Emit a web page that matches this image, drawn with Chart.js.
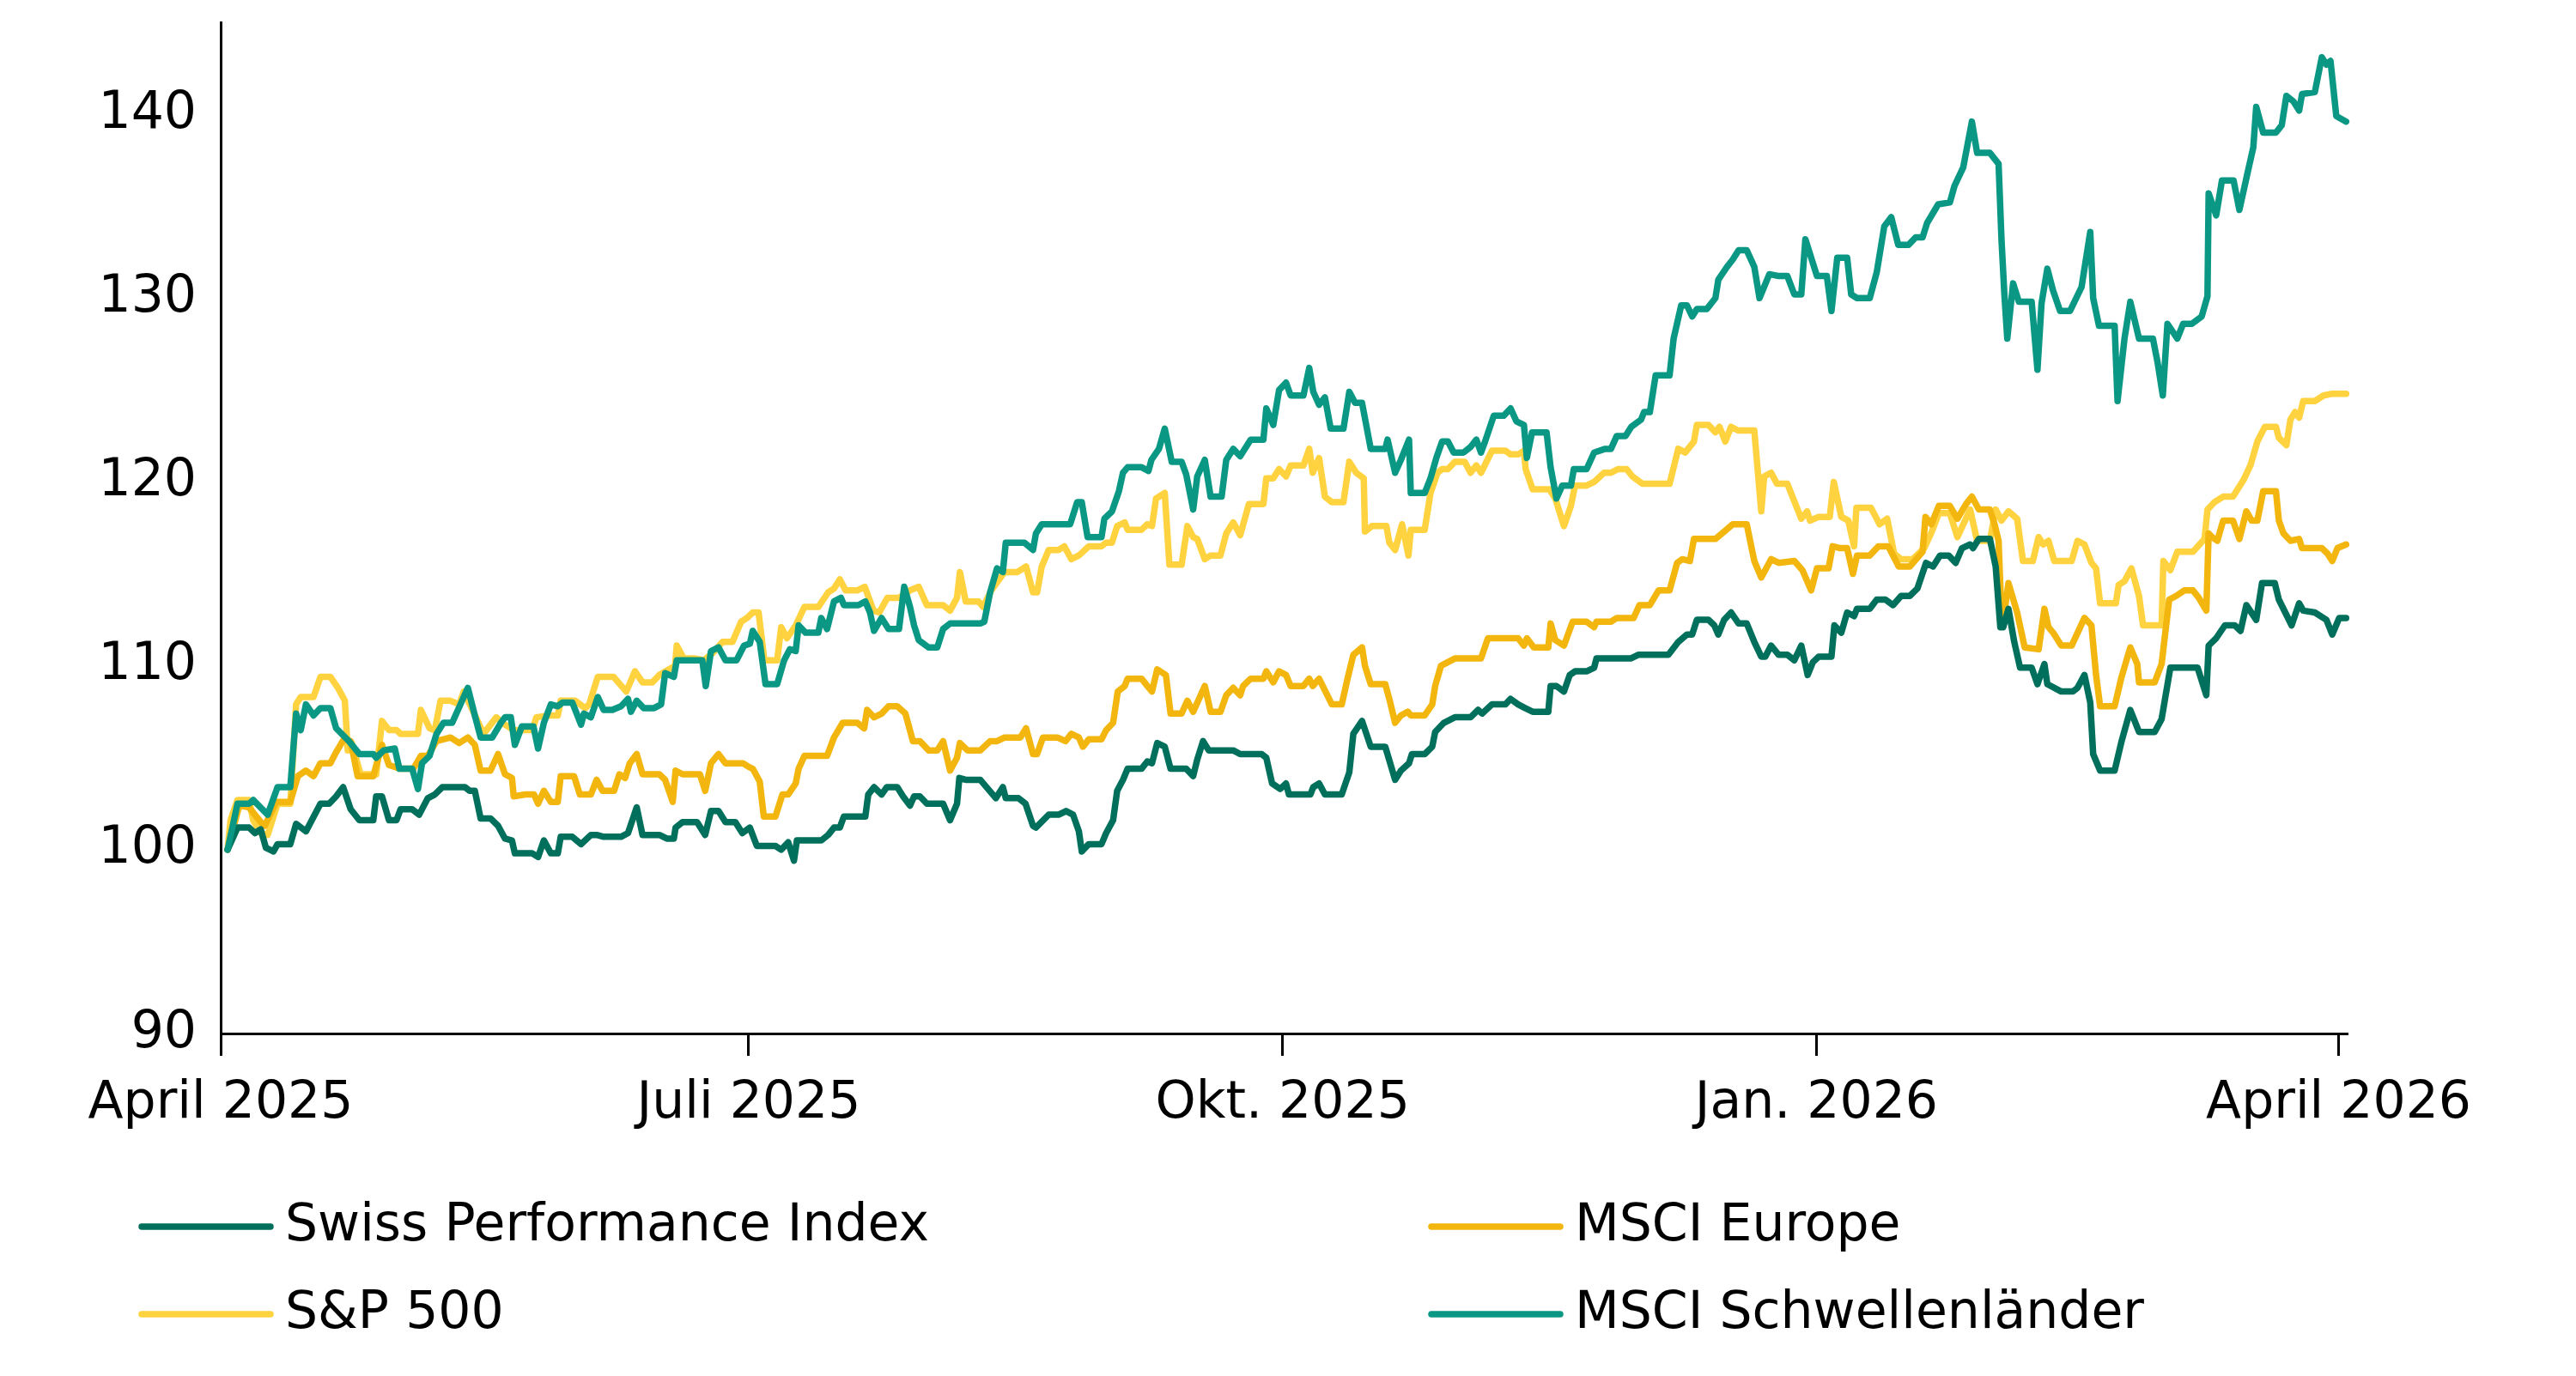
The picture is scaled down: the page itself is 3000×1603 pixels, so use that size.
<!DOCTYPE html>
<html lang="de">
<head>
<meta charset="utf-8">
<title>Indexentwicklung</title>
<script src="https://cdn.jsdelivr.net/npm/chart.js@4.4.1/dist/chart.umd.min.js"></script>
<style>
  html, body { margin: 0; padding: 0; background: #fff; }
  #wrap { position: relative; width: 3000px; height: 1603px; }
</style>
</head>
<body>
<div id="wrap"><canvas id="myChart"></canvas></div>
<script>
// Tage seit 1. April 2025
const tickDays = [0, 91, 183, 275, 365];
const tickLabels = ["April 2025", "Juli 2025", "Okt. 2025", "Jan. 2026", "April 2026"];
const yTicks = [90, 100, 110, 120, 130, 140];

const seriesNames = ["Swiss Performance Index", "S&P 500", "MSCI Europe", "MSCI Schwellenländer"];

const spiDays = [1.2,2.9,4.9,5.9,6.9,7.8,9.1,9.8,12.0,13.0,14.7,17.2,18.7,19.9,21.1,22.4,23.9,26.3,26.8,27.8,29.0,30.3,31.0,33.0,34.2,35.7,36.9,38.2,42.1,42.9,43.8,44.8,46.5,47.8,49.0,50.2,50.7,53.7,54.7,55.7,56.9,58.1,58.6,60.6,
  62.1,63.8,64.8,66.0,69.0,70.2,71.7,72.7,75.6,76.9,78.1,78.4,79.6,82.1,83.5,84.5,85.8,87.0,88.7,89.9,91.2,92.4,95.6,96.6,97.8,98.8,99.3,103.5,104.7,105.7,106.7,107.4,111.1,111.6,112.6,113.9,114.8,116.6,117.6,118.8,119.5,120.5,
  121.7,124.5,125.7,126.9,127.3,128.4,130.9,133.6,134.8,135.3,137.5,138.7,140.0,140.5,142.7,144.4,145.7,146.9,147.9,148.4,149.6,151.8,152.6,153.8,154.5,155.5,156.3,158.7,159.7,160.5,161.4,162.7,163.7,166.4,167.6,168.3,169.3,170.3,174.5,175.7,179.4,180.2,181.2,182.6,
  183.6,184.1,187.8,188.3,189.3,190.3,193.2,194.5,195.2,196.7,198.2,200.7,202.4,203.4,204.8,205.3,207.5,208.8,209.3,210.8,212.7,215.4,216.7,217.4,219.1,221.4,222.3,223.6,224.8,226.1,228.8,229.2,230.2,231.5,232.5,233.4,235.4,236.7,237.1,243.0,
  244.3,249.5,251.2,252.7,253.6,254.4,256.4,257.4,258.1,259.1,260.3,261.6,263.0,264.3,265.5,266.2,267.2,268.5,270.0,271.2,272.4,273.5,274.4,275.4,277.6,278.1,279.3,280.3,281.5,282.0,284.2,285.4,286.9,288.2,289.6,291.1,292.4,293.9,295.1,296.3,297.8,299.0,300.1,301.5,302.0,303.0,304.9,
  305.9,306.7,307.2,308.1,309.1,310.1,312.1,313.1,314.3,314.8,317.2,319.2,320.0,321.2,322.2,322.7,323.9,326.4,327.6,329.1,330.6,333.3,334.5,336.0,340.7,342.2,342.6,343.9,345.4,347.1,348.1,349.1,350.8,351.8,354.0,354.7,356.9,358.2,358.9,360.9,362.9,363.9,365.1,366.3];
const spiVals = [100.0,101.2,101.2,100.9,101.1,100.1,99.9,100.3,100.3,101.4,101.0,102.5,102.5,102.9,103.4,102.2,101.6,101.6,102.9,102.9,101.6,101.6,102.2,102.2,101.9,102.8,103.0,103.4,103.4,103.2,103.2,101.7,101.7,101.3,100.6,100.5,99.8,99.8,99.6,100.5,99.8,99.8,100.7,100.7,
  100.3,100.8,100.8,100.7,100.7,100.9,102.3,100.8,100.8,100.6,100.6,101.2,101.5,101.5,100.8,102.1,102.1,101.5,101.5,100.9,101.2,100.2,100.2,100.0,100.4,99.4,100.5,100.5,100.8,101.2,101.2,101.8,101.8,103.0,103.4,103.0,103.4,103.4,102.9,102.4,102.9,102.9,
  102.5,102.5,101.6,102.5,103.9,103.8,103.8,102.8,103.4,102.8,102.8,102.5,101.3,101.2,101.9,101.9,102.1,101.9,101.0,99.9,100.3,100.3,100.9,101.6,103.2,103.8,104.4,104.4,104.8,104.7,105.8,105.6,104.4,104.4,104.0,104.9,105.9,105.4,105.4,105.2,105.2,105.0,103.6,103.3,
  103.6,103.0,103.0,103.4,103.6,103.0,103.0,104.2,106.3,107.0,105.6,105.6,103.8,104.3,104.7,105.2,105.2,105.6,106.4,106.9,107.2,107.2,107.6,107.4,107.9,107.9,108.2,107.9,107.7,107.5,107.5,108.9,108.9,108.6,109.5,109.7,109.7,109.9,110.4,110.4,
  110.6,110.6,111.3,111.7,111.7,112.5,112.5,112.2,111.7,112.5,112.9,112.3,112.3,111.3,110.5,110.5,111.1,110.6,110.6,110.3,111.1,109.5,110.2,110.5,110.5,112.2,111.8,112.9,112.7,113.1,113.1,113.6,113.6,113.3,113.8,113.8,114.2,115.6,115.4,116.0,116.0,115.6,116.4,116.6,116.4,116.9,116.9,
  115.4,112.1,112.1,113.1,111.3,109.9,109.9,109.0,110.1,109.0,108.6,108.6,108.8,109.5,108.0,105.2,104.3,104.3,105.9,107.6,106.4,106.4,107.1,109.9,109.9,108.4,111.1,111.5,112.2,112.2,111.9,113.3,112.5,114.5,114.5,113.6,112.2,113.4,113.0,112.9,112.5,111.7,112.6,112.6];

const spDays = [1.2,1.7,2.9,4.9,5.6,6.9,8.1,9.8,12.0,13.0,13.8,16.0,17.2,18.9,20.2,21.4,21.9,22.6,24.1,26.8,27.8,29.0,30.3,31.0,34.0,34.5,36.0,36.9,37.9,39.6,41.1,41.9,43.4,45.3,47.5,49.0,50.5,53.7,54.4,56.7,58.1,58.6,
  61.1,62.8,63.5,65.0,67.7,69.9,71.4,72.7,74.4,75.6,78.3,78.6,79.8,81.8,83.3,84.8,86.5,88.2,89.7,90.7,91.7,92.7,93.7,95.9,96.6,97.6,99.1,100.6,103.0,104.7,105.7,106.7,107.7,109.7,111.0,112.5,113.5,114.9,116.9,118.8,120.3,
  121.7,124.5,125.7,126.9,127.4,128.4,130.6,131.4,132.8,135.1,137.3,138.8,140.0,140.7,141.5,142.7,144.4,145.4,146.6,147.9,149.6,151.8,152.6,153.6,154.5,155.8,156.3,158.7,159.7,160.5,161.2,162.7,163.5,165.6,166.6,167.6,168.3,169.6,170.6,172.3,173.3,174.5,175.7,177.2,179.7,180.2,181.4,182.4,
  183.6,184.4,186.6,187.6,188.2,189.3,190.3,191.5,193.5,194.5,195.7,197.0,197.2,198.4,200.9,201.4,202.4,203.6,204.7,205.1,207.5,208.5,209.7,210.5,211.5,212.7,214.4,215.4,216.4,217.2,219.1,221.4,222.3,223.6,224.6,224.9,226.1,229.0,230.0,231.5,232.7,233.4,235.4,236.7,238.4,239.6,240.8,242.3,243.3,
  245.0,249.7,251.2,252.4,253.9,254.4,256.4,257.6,258.3,259.3,260.3,261.5,264.3,265.5,266.0,267.2,268.2,270.0,272.4,273.4,273.9,275.4,277.3,278.0,279.3,280.5,281.5,281.9,284.4,285.9,287.2,288.4,289.6,291.6,293.6,294.9,296.1,298.0,299.3,301.5,302.7,304.9,
  305.9,306.9,308.1,309.6,310.6,312.3,313.3,314.1,315.0,316.0,319.0,320.0,321.2,322.4,323.2,323.9,326.6,327.1,328.1,329.3,330.6,331.3,334.5,334.8,336.0,337.2,339.9,341.9,342.4,343.6,345.1,346.8,348.6,349.8,351.0,352.3,354.2,354.7,356.0,356.7,357.5,358.2,358.9,360.9,362.4,363.9,366.3];
const spVals = [100.0,101.6,102.7,102.7,101.6,100.9,100.8,102.5,102.5,107.9,108.3,108.3,109.4,109.4,108.8,108.1,105.4,105.8,104.1,104.1,107.0,106.5,106.5,106.3,106.3,107.6,106.6,106.5,108.1,108.1,107.9,108.6,107.6,106.3,107.2,106.8,106.5,106.5,107.2,107.3,107.3,108.1,
  108.1,107.7,107.9,109.4,109.4,108.6,109.7,109.1,109.1,109.5,110.0,111.1,110.4,110.4,110.3,110.7,111.3,111.3,112.4,112.6,112.9,112.9,110.3,110.3,112.1,111.5,112.2,113.2,113.2,114.0,114.2,114.7,114.1,114.1,114.3,113.0,112.9,113.7,113.7,114.1,114.3,
  113.3,113.3,113.0,113.7,115.1,113.5,113.5,113.2,114.1,115.1,115.1,115.4,114.0,114.0,115.4,116.3,116.3,116.5,115.8,116.0,116.5,116.5,116.7,116.7,117.6,117.8,117.4,117.4,117.7,117.6,119.1,119.4,115.5,115.5,117.6,117.0,116.9,115.8,116.0,116.0,117.2,117.8,117.1,118.8,118.8,120.2,120.2,120.7,
  120.3,120.9,120.9,121.8,120.5,121.3,119.2,118.9,118.9,121.1,120.5,120.2,117.3,117.6,117.6,116.7,116.3,117.7,116.0,117.4,117.4,119.4,120.5,120.7,120.7,121.1,121.1,120.5,120.9,120.5,121.7,121.7,121.5,121.5,121.7,120.7,119.6,119.6,119.1,117.6,118.7,119.8,119.8,120.0,120.5,120.5,120.7,120.7,120.3,
  119.9,119.9,121.8,121.6,122.2,123.1,123.1,122.7,123.0,122.2,123.0,122.8,122.8,118.4,120.3,120.5,119.9,119.9,118.0,118.4,117.9,118.1,118.1,120.0,118.1,117.9,116.5,118.6,118.6,117.7,118.0,116.1,115.8,115.8,116.4,117.3,118.3,118.3,117.0,118.5,116.8,116.8,
  118.5,117.9,118.4,118.0,115.7,115.7,117.0,116.6,116.8,115.7,115.7,116.8,116.6,115.6,115.3,113.4,113.4,114.4,114.6,115.3,113.8,112.2,112.2,115.7,115.2,116.2,116.2,116.9,118.5,118.9,119.2,119.2,120.1,120.9,122.2,123.0,123.0,122.4,122.0,123.4,123.8,123.5,124.4,124.4,124.7,124.8,124.8];

const euDays = [1.2,3.2,4.9,5.9,6.9,7.6,9.6,12.0,13.3,14.7,16.0,17.2,18.9,19.9,21.2,22.4,23.6,26.3,27.8,29.0,31.0,33.2,34.5,35.7,37.2,39.6,41.1,42.6,43.8,44.8,46.5,47.8,49.0,50.2,50.5,52.5,54.0,54.7,55.7,56.9,58.1,58.6,
  60.9,61.9,63.8,64.8,65.8,67.8,68.7,69.7,70.5,71.7,72.7,75.6,76.6,77.9,78.4,79.6,82.6,83.5,84.5,85.8,87.0,90.0,91.0,91.7,92.9,93.6,95.6,96.8,97.8,99.1,99.6,100.6,104.5,105.7,107.2,109.7,110.9,111.4,112.6,113.9,115.1,116.6,118.0,119.3,120.5,
  122.0,123.5,124.5,125.7,126.9,127.4,128.7,130.9,132.6,133.8,135.1,137.8,138.8,140.0,140.7,141.7,144.2,145.6,146.6,147.9,148.6,149.6,151.8,152.6,153.8,154.6,155.8,156.3,158.7,159.7,160.5,161.4,162.9,163.7,165.6,166.6,167.6,169.6,170.6,172.3,173.3,174.5,175.7,176.2,177.5,179.7,180.2,181.4,182.4,
  183.6,184.4,186.6,187.6,188.2,189.3,191.5,193.2,194.2,195.2,196.7,197.2,198.2,200.7,201.4,202.4,203.4,204.6,205.1,207.5,208.8,209.3,210.3,212.7,217.2,218.4,223.6,224.6,225.1,226.3,228.8,229.2,230.0,231.5,233.0,235.4,236.7,237.1,239.6,240.6,243.5,244.5,
  246.3,247.8,249.7,251.0,251.9,253.2,253.9,257.6,259.1,260.6,263.0,264.3,265.5,267.2,268.5,271.2,272.6,274.1,275.1,277.1,277.8,279.1,280.3,281.3,282.0,284.2,285.7,287.4,289.2,291.1,293.3,293.8,294.8,296.1,298.0,299.3,300.8,301.8,303.0,304.9,
  305.7,306.4,306.9,307.4,308.1,309.6,310.9,313.3,314.3,315.0,315.8,317.2,319.0,321.2,322.4,323.2,323.9,326.4,327.6,329.1,330.3,330.6,333.3,334.5,335.8,337.0,338.4,339.9,340.9,342.2,342.6,343.2,344.1,345.1,346.8,347.9,349.1,350.0,351.0,352.0,354.2,354.7,355.5,356.7,358.2,358.7,362.1,363.1,363.9,364.8,366.3];
const euVals = [100.0,102.4,102.3,101.9,101.5,101.3,102.6,102.6,104.0,104.3,104.0,104.7,104.7,105.3,106.0,105.9,104.0,104.0,105.7,104.6,104.4,104.4,105.1,105.1,105.9,106.1,105.8,106.1,105.7,104.3,104.3,105.2,104.1,103.9,102.9,103.0,103.0,102.5,103.2,102.6,102.6,104.0,
  104.0,103.0,103.0,103.8,103.2,103.2,104.1,103.9,104.7,105.2,104.1,104.1,103.8,102.6,104.3,104.1,104.1,103.2,104.7,105.2,104.7,104.7,104.5,104.4,103.7,101.8,101.8,103.0,103.0,103.6,104.4,105.1,105.1,106.1,106.9,106.9,106.6,107.6,107.2,107.4,107.8,107.8,107.4,105.9,105.9,
  105.4,105.4,105.9,104.3,105.0,105.8,105.4,105.4,105.9,105.9,106.1,106.1,106.6,105.2,105.2,106.1,106.1,105.9,106.3,106.1,105.6,106.0,106.0,106.5,106.9,108.6,108.9,109.3,109.3,108.9,108.6,109.8,109.5,107.4,107.4,108.1,107.5,108.9,107.5,107.5,108.4,108.8,108.4,108.9,109.3,109.3,109.7,109.1,109.7,
  109.5,108.9,108.9,109.3,108.9,109.3,107.9,107.9,109.3,110.6,111.0,110.0,109.0,109.0,108.2,106.9,107.3,107.5,107.3,107.3,107.9,108.9,110.0,110.4,110.4,111.5,111.5,111.1,111.5,111.0,111.0,112.3,111.4,111.1,112.4,112.4,112.1,112.4,112.4,112.6,112.6,113.3,
  113.3,114.1,114.1,115.6,115.8,115.7,116.9,116.9,117.3,117.7,117.7,115.7,114.8,115.8,115.6,115.7,115.2,114.1,115.3,115.3,116.5,116.4,116.4,115.0,116.0,116.0,116.5,116.5,115.4,115.4,116.2,118.1,117.7,118.7,118.7,118.0,118.8,119.2,118.5,118.5,
  117.7,116.8,112.7,112.9,114.5,112.9,111.0,110.9,113.1,112.1,111.8,111.1,111.1,112.6,112.2,109.5,107.8,107.8,109.4,111.0,110.1,109.1,109.1,110.1,113.6,113.8,114.1,114.1,113.7,113.0,117.2,117.0,116.8,117.9,117.9,116.9,118.4,117.9,117.9,119.5,119.5,117.9,117.2,116.8,116.9,116.4,116.4,116.1,115.7,116.4,116.6];

const emDays = [1.2,2.9,4.9,5.6,8.1,9.8,12.0,13.0,13.8,14.7,16.0,17.2,18.9,19.9,22.1,23.9,26.3,26.8,28.1,30.0,30.8,33.0,34.0,34.7,36.0,37.2,38.4,39.9,42.6,43.8,44.8,46.8,48.3,49.0,50.0,50.7,51.9,53.9,54.7,55.7,56.9,58.1,58.9,60.6,
  62.1,62.6,63.8,65.0,66.0,67.5,69.0,70.2,70.7,71.7,72.9,74.7,75.9,76.6,78.1,78.6,83.0,83.6,84.5,85.8,87.0,88.9,90.2,91.2,91.7,92.9,93.9,95.9,97.1,98.1,99.1,99.6,100.8,103.0,103.5,104.5,105.7,106.9,107.4,109.9,111.1,111.9,112.6,113.9,115.1,116.9,117.8,118.8,119.5,120.3,
  122.0,123.5,124.5,125.7,130.9,131.6,132.6,133.8,134.8,135.3,138.5,140.0,140.5,141.5,146.4,147.6,148.4,149.4,151.8,152.3,153.6,154.8,155.5,156.3,158.7,159.9,160.4,161.7,162.7,163.9,165.6,166.4,167.6,168.3,169.6,170.6,172.5,173.3,174.5,175.7,177.5,179.7,180.2,181.4,182.4,
  183.6,184.4,186.6,187.6,188.3,189.3,190.3,191.3,193.5,194.5,195.5,196.7,198.2,200.7,201.1,202.4,203.4,204.8,205.1,207.5,208.5,209.5,210.5,211.5,212.5,214.2,215.4,216.4,217.2,217.9,219.4,221.1,222.3,223.3,224.6,225.1,226.0,228.5,229.2,230.2,231.2,232.7,233.2,235.4,236.7,238.6,239.6,240.6,242.1,243.1,
  244.8,245.3,246.3,247.3,249.7,250.4,251.7,252.7,253.6,254.4,256.1,257.6,258.1,259.6,260.6,261.6,263.0,264.3,265.2,266.9,268.5,270.0,271.2,272.4,273.1,275.1,276.8,277.6,278.6,280.3,281.0,282.0,284.2,285.4,286.7,287.9,289.1,290.9,292.1,293.3,294.1,296.0,298.0,298.8,300.3,301.8,302.7,304.9,
  306.4,306.9,307.4,307.9,308.9,309.9,312.1,313.1,313.8,314.8,315.8,317.0,318.7,320.7,322.2,322.7,323.7,326.4,326.9,328.1,329.1,330.6,333.0,333.8,334.7,335.5,337.2,338.2,339.7,341.4,342.4,342.6,343.9,344.9,346.9,347.9,349.3,350.3,350.8,352.0,354.2,355.2,356.0,357.2,358.2,358.7,360.9,362.1,362.9,363.6,364.6,366.3];
const emVals = [100.0,102.5,102.5,102.7,101.9,103.4,103.4,107.4,106.5,107.9,107.3,107.7,107.7,106.6,105.9,105.2,105.2,105.0,105.4,105.5,104.4,104.4,103.3,104.7,105.1,106.3,106.9,106.9,108.8,107.3,106.1,106.1,106.9,107.2,107.2,105.7,106.7,106.7,105.5,106.9,107.9,107.8,108.0,108.0,
  106.8,107.4,107.2,108.3,107.6,107.6,107.8,108.2,107.5,108.1,107.7,107.7,107.9,109.6,109.4,110.3,110.3,108.9,110.8,111.0,110.3,110.3,111.1,111.2,111.9,111.3,109.0,109.0,110.3,110.9,110.8,112.2,111.8,111.8,112.6,112.0,113.5,113.7,113.3,113.3,113.5,112.9,111.9,112.6,112.0,112.0,114.3,113.2,112.2,111.4,
  111.0,111.0,112.0,112.3,112.3,112.4,114.0,115.3,115.1,116.7,116.7,116.3,117.2,117.7,117.7,118.9,118.9,117.0,117.0,118.0,118.4,119.5,120.5,120.8,120.8,120.6,121.2,121.8,122.9,121.1,121.1,120.4,118.5,120.3,121.2,119.2,119.2,121.2,121.8,121.4,122.3,122.3,124.0,123.1,125.0,
  125.4,124.7,124.7,126.2,124.9,124.2,124.6,122.9,122.9,124.9,124.3,124.3,121.8,121.8,122.3,120.5,121.2,122.3,119.4,119.4,120.2,121.3,122.2,122.2,121.6,121.6,121.9,122.3,121.6,122.2,123.6,123.6,124.0,123.3,123.1,121.3,122.7,122.7,120.8,119.1,119.8,119.8,120.7,120.7,121.6,121.8,121.8,122.5,122.5,123.0,
  123.4,123.8,123.8,125.8,125.8,127.8,129.6,129.6,129.0,129.4,129.4,130.0,131.0,131.7,132.1,132.6,132.6,131.7,130.0,131.3,131.2,131.2,130.2,130.2,133.2,131.2,131.2,129.3,132.2,132.2,130.2,130.0,130.0,131.4,133.9,134.4,132.9,132.9,133.3,133.3,134.1,135.1,135.2,136.1,137.1,139.6,137.9,137.9,
  137.3,133.2,130.2,127.8,130.8,129.8,129.8,126.1,129.7,131.6,130.4,129.3,129.3,130.6,133.6,130.0,128.5,128.5,124.4,127.8,129.8,127.8,127.8,126.5,124.7,128.6,127.8,128.6,128.6,129.0,130.1,135.7,134.5,136.4,136.4,134.8,136.8,138.2,140.4,139.0,139.0,139.4,141.0,140.7,140.2,141.1,141.2,143.1,142.7,142.9,139.9,139.6];

const seriesDays = [spiDays, spDays, euDays, emDays];
const seriesVals = [spiVals, spVals, euVals, emVals];
const seriesColors = ["#006F5B", "#FFD23F", "#F2B60F", "#0A9784"];
const drawOrder = [1, 3, 2, 0];

const FONT = { family: "'DejaVu Sans', sans-serif", size: 60 };

// Legende in zwei Spalten unter dem Diagramm
const legendPlugin = {
  id: "twoColLegend",
  afterDraw(chart) {
    const ctx = chart.ctx;
    const colX = [165, 1667];
    const rowY = [1429, 1531];
    ctx.save();
    chart.data.datasets.forEach((ds, i) => {
      const col = Math.floor(i / 2);
      const row = i % 2;
      const x = colX[col];
      const y = rowY[row];
      ctx.strokeStyle = ds.borderColor;
      ctx.lineWidth = 7.5;
      ctx.lineCap = "round";
      ctx.beginPath();
      ctx.moveTo(x, y);
      ctx.lineTo(x + 150, y);
      ctx.stroke();
      ctx.fillStyle = "#000";
      ctx.font = FONT.size + "px " + FONT.family;
      ctx.textBaseline = "middle";
      ctx.textAlign = "left";
      ctx.fillText(ds.label, x + 167, y);
    });
    ctx.restore();
  }
};

const datasets = seriesNames.map((name, k) => ({
  label: name,
  data: seriesDays[k].map((d, i) => ({ x: d, y: seriesVals[k][i] })),
  borderColor: seriesColors[k],
  backgroundColor: seriesColors[k],
  borderWidth: 7.5,
  borderCapStyle: "round",
  borderJoinStyle: "round",
  pointRadius: 0,
  tension: 0,
  fill: false,
  clip: 10,
  order: drawOrder[k],
}));

const config = {
  type: "line",
  data: { datasets: datasets },
  options: {
    responsive: true,
    maintainAspectRatio: false,
    animation: false,
    layout: { padding: { left: 0, top: 26, right: 267, bottom: 279 } },
    plugins: {
      legend: { display: false },
      tooltip: { enabled: false },
    },
    scales: {
      x: {
        type: "linear",
        min: 0,
        max: 366.4,
        afterBuildTicks: (scale) => {
          scale.ticks = tickDays.map((v) => ({ value: v }));
        },
        afterFit: (scale) => {
          scale.height = 120;
          scale.paddingLeft = 0;
          scale.paddingRight = 0;
        },
        ticks: {
          color: "#000",
          font: FONT,
          padding: 20,
          maxRotation: 0,
          autoSkip: false,
          callback: (v) => {
            const i = tickDays.indexOf(v);
            return i >= 0 ? tickLabels[i] : "";
          },
        },
        grid: {
          display: true,
          drawOnChartArea: false,
          drawTicks: true,
          tickLength: 26,
          color: "#000",
          lineWidth: 3,
        },
        border: { display: true, color: "#000", width: 3 },
      },
      y: {
        min: 90,
        max: 145,
        afterBuildTicks: (scale) => {
          scale.ticks = yTicks.map((v) => ({ value: v }));
        },
        afterFit: (scale) => {
          scale.width = 257;
          scale.paddingTop = 0;
          scale.paddingBottom = 0;
        },
        ticks: { color: "#000", font: FONT, padding: 28 },
        grid: { display: false, drawTicks: false },
        border: { display: true, color: "#000", width: 3 },
      },
    },
  },
  plugins: [legendPlugin],
};

new Chart(document.getElementById("myChart").getContext("2d"), config);
</script>
</body>
</html>
